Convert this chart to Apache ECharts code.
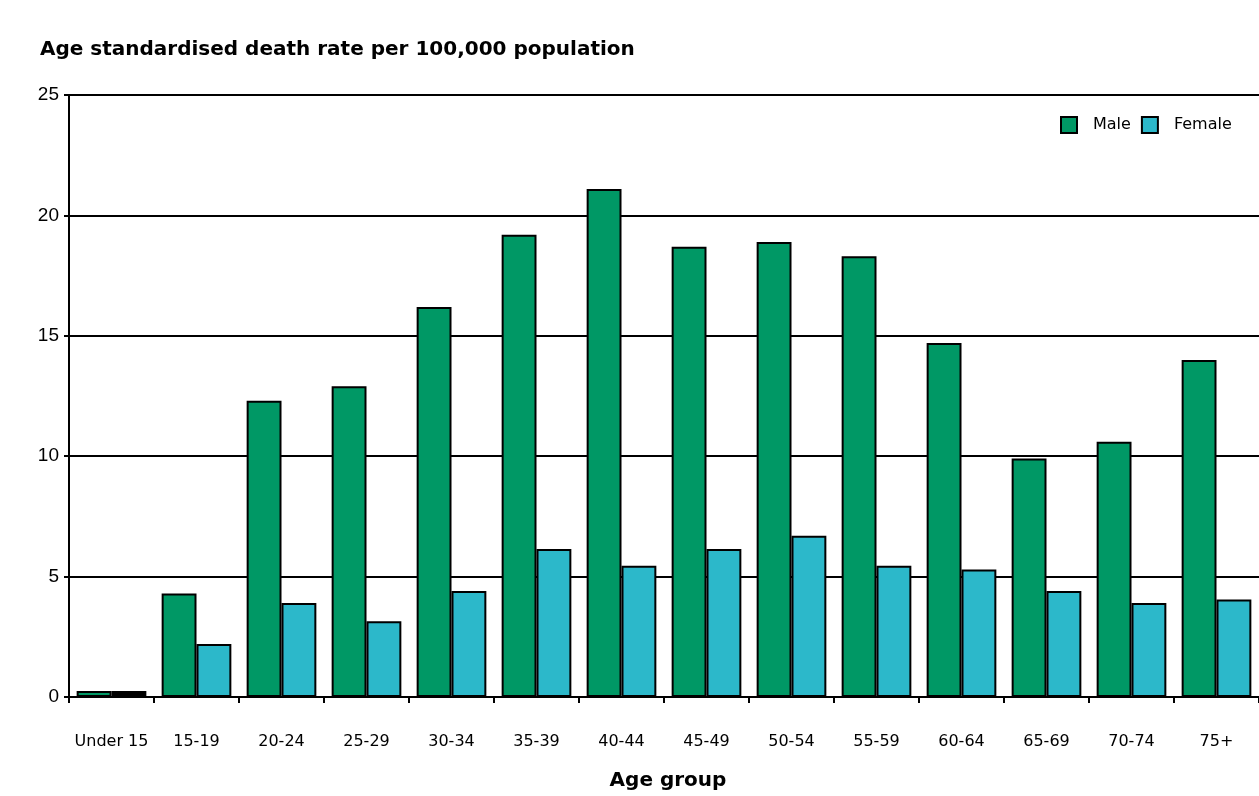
<!DOCTYPE html>
<html>
<head>
<meta charset="utf-8">
<script src="https://cdn.jsdelivr.net/npm/echarts@6/dist/echarts.min.js"></script>
<style>
  html, body { margin: 0; padding: 0; background: #ffffff; }
  #chart { width: 1259px; height: 796px; }
</style>
</head>
<body>
<div id="chart"></div>
<script>
// Age groups along the x axis
const ageGroups = ['Under 15', '15-19', '20-24', '25-29', '30-34', '35-39', '40-44',
                   '45-49', '50-54', '55-59', '60-64', '65-69', '70-74', '75+'];

// Age standardised death rate per 100,000 population
const maleRates   = [0.25, 4.3, 12.3, 12.9, 16.2, 19.2, 21.1, 18.7, 18.9, 18.3, 14.7, 9.9, 10.6, 14.0];
const femaleRates = [0.25, 2.2, 3.9, 3.15, 4.4, 6.15, 5.45, 6.15, 6.7, 5.45, 5.3, 4.4, 3.9, 4.05];

const yTicks = [0, 5, 10, 15, 20, 25];

const GREEN = '#009865';
const CYAN = '#2cb8ca';
const FONT = '"Liberation Sans", Arial, sans-serif';
const WIDE = '"DejaVu Sans", Verdana, sans-serif';

const chart = echarts.init(document.getElementById('chart'));

chart.setOption({
  animation: false,
  backgroundColor: '#ffffff',
  title: [
    {
      text: 'Age standardised death rate per 100,000 population',
      left: 35, top: 35,
      textStyle: { fontFamily: WIDE, fontSize: 20, fontWeight: 'bold', color: '#000' }
    },
    {
      text: 'Age group',
      left: 663, top: 766, textAlign: 'center',
      textStyle: { fontFamily: WIDE, fontSize: 20, fontWeight: 'bold', color: '#000' }
    }
  ],
  legend: {
    left: 1055, top: 111,
    itemWidth: 16, itemHeight: 16, itemGap: 10,
    icon: 'rect',
    textStyle: { fontFamily: WIDE, fontSize: 16, color: '#000', padding: [0, 0, 0, 11] },
    data: ['Male', 'Female']
  },
  grid: { left: 69, right: 0, top: 95, bottom: 99 },
  xAxis: {
    type: 'category',
    data: ageGroups,
    axisLine: { lineStyle: { color: '#000', width: 2 } },
    axisTick: { show: true, interval: 0, length: 6, lineStyle: { color: '#000', width: 2 } },
    axisLabel: { interval: 0, fontFamily: WIDE, fontSize: 16, color: '#000', margin: 37 }
  },
  yAxis: {
    type: 'value',
    min: yTicks[0], max: yTicks[yTicks.length - 1], interval: 5,
    axisLine: { show: true, lineStyle: { color: '#000', width: 2 } },
    axisTick: { show: true, length: 5, lineStyle: { color: '#000', width: 2 } },
    axisLabel: { fontFamily: FONT, fontSize: 19, color: '#000', margin: 10 },
    splitLine: { lineStyle: { color: '#000', width: 2 } }
  },
  series: [
    {
      name: 'Male', type: 'bar',
      data: maleRates,
      barGap: '0%', barCategoryGap: '18%',
      itemStyle: { color: GREEN, borderColor: '#000', borderWidth: 2 }
    },
    {
      name: 'Female', type: 'bar',
      data: femaleRates.map((v, i) => i === 0
        ? { value: v, itemStyle: { color: '#000' } }
        : v),
      itemStyle: { color: CYAN, borderColor: '#000', borderWidth: 2 }
    }
  ]
});
</script>
</body>
</html>
